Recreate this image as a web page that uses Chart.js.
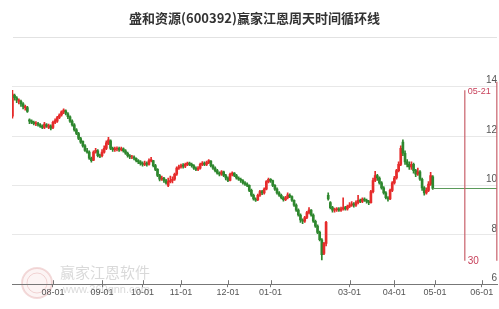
<!DOCTYPE html>
<html>
<head>
<meta charset="utf-8">
<script src="https://cdn.jsdelivr.net/npm/chart.js@4.4.0/dist/chart.umd.min.js"></script>
<style>
  html, body { margin: 0; padding: 0; background: #fff; }
  #wrap { width: 499px; height: 309px; }
</style>
</head>
<body>
<div id="wrap"><canvas id="kChart" width="499" height="309"></canvas></div>
<script>
// daily candles, one per trading day (index 0 = first day shown)
const opens = [
  12.8, 13.65, 13.55, 13.4, 13.4, 13.3, 13.15, 13.15, 12.65, 12.6,
  12.55, 12.5, 12.5, 12.45, 12.4, 12.35, 12.45, 12.35, 12.4, 12.35,
  12.55, 12.6, 12.75, 12.85, 12.98, 13.02, 12.9, 12.78, 12.6, 12.45,
  12.25, 12.1, 11.9, 11.78, 11.6, 11.4, 11.35, 11.1, 11.02, 11.35,
  11.4, 11.2, 11.2, 11.35, 11.5, 11.7, 11.8, 11.5, 11.45, 11.48,
  11.5, 11.45, 11.48, 11.4, 11.3, 11.2, 11.15, 11.15, 11.1, 11.0,
  10.95, 10.88, 10.85, 10.9, 10.85, 11.0, 11.0, 10.8, 10.65, 10.4,
  10.25, 10.3, 10.2, 10.0, 10.15, 10.2, 10.25, 10.45, 10.7, 10.75,
  10.82, 10.78, 10.85, 10.9, 10.85, 10.8, 10.7, 10.65, 10.7, 10.85,
  10.9, 10.85, 10.92, 10.98, 10.8, 10.7, 10.6, 10.5, 10.45, 10.55,
  10.4, 10.3, 10.2, 10.45, 10.5, 10.4, 10.3, 10.25, 10.2, 10.1,
  10.05, 10.0, 9.8, 9.6, 9.45, 9.42, 9.6, 9.75, 9.7, 9.85,
  10.15, 10.25, 10.2, 10.0, 9.85, 9.7, 9.6, 9.5, 9.42, 9.5,
  9.6, 9.55, 9.4, 9.2, 9.0, 8.8, 8.6, 8.55, 8.7, 8.9,
  9.0, 8.8, 8.55, 8.35, 8.1, 7.8, 7.25, 7.65, 9.6, 9.3,
  9.1, 9.0, 9.02, 9.05, 9.0, 9.05, 9.1, 9.05, 9.15, 9.2,
  9.25, 9.2, 9.3, 9.4, 9.35, 9.45, 9.4, 9.35, 9.3, 9.75,
  10.2, 10.4, 10.3, 10.1, 9.9, 9.7, 9.5, 9.45, 9.8, 10.1,
  10.3, 10.6, 10.85, 11.75, 11.3, 10.95, 10.85, 10.75, 10.85, 10.6,
  10.45, 10.55, 10.25, 9.9, 9.7, 9.8, 10.05, 10.35
];
const closes = [
  13.7, 13.55, 13.45, 13.45, 13.3, 13.2, 13.2, 13.0, 12.6, 12.55,
  12.5, 12.52, 12.45, 12.4, 12.35, 12.48, 12.4, 12.42, 12.32, 12.55,
  12.62, 12.75, 12.85, 12.98, 13.05, 12.92, 12.78, 12.6, 12.45, 12.25,
  12.1, 11.9, 11.75, 11.6, 11.42, 11.35, 11.1, 11.0, 11.35, 11.42,
  11.2, 11.18, 11.35, 11.5, 11.72, 11.85, 11.5, 11.45, 11.48, 11.5,
  11.44, 11.48, 11.4, 11.3, 11.2, 11.15, 11.16, 11.1, 11.0, 10.95,
  10.88, 10.85, 10.9, 10.85, 11.0, 11.05, 10.8, 10.65, 10.4, 10.25,
  10.3, 10.2, 10.1, 10.15, 10.2, 10.25, 10.45, 10.7, 10.75, 10.8,
  10.78, 10.85, 10.9, 10.85, 10.8, 10.7, 10.65, 10.7, 10.85, 10.9,
  10.85, 10.92, 11.0, 10.8, 10.7, 10.6, 10.5, 10.45, 10.55, 10.4,
  10.3, 10.2, 10.45, 10.5, 10.4, 10.3, 10.25, 10.2, 10.1, 10.05,
  10.0, 9.8, 9.6, 9.45, 9.4, 9.6, 9.75, 9.7, 9.85, 10.15,
  10.25, 10.2, 10.0, 9.85, 9.7, 9.6, 9.5, 9.42, 9.5, 9.62,
  9.55, 9.4, 9.2, 9.0, 8.8, 8.6, 8.55, 8.7, 8.9, 9.0,
  8.8, 8.55, 8.35, 8.1, 7.8, 7.2, 7.65, 8.5, 9.45, 9.1,
  9.0, 9.02, 9.05, 9.0, 9.05, 9.1, 9.05, 9.15, 9.2, 9.25,
  9.2, 9.3, 9.4, 9.35, 9.45, 9.4, 9.35, 9.3, 9.75, 10.2,
  10.4, 10.3, 10.1, 9.9, 9.7, 9.5, 9.45, 9.8, 10.1, 10.3,
  10.6, 10.85, 11.5, 11.3, 10.95, 10.85, 10.75, 10.85, 10.6, 10.45,
  10.55, 10.25, 9.9, 9.7, 9.8, 10.05, 10.4, 9.88
];
const highs = [
  13.85, 13.7, 13.6, 13.5, 13.45, 13.35, 13.25, 13.2, 12.7, 12.65,
  12.6, 12.58, 12.55, 12.5, 12.45, 12.55, 12.5, 12.48, 12.45, 12.6,
  12.7, 12.8, 12.9, 13.02, 13.1, 13.06, 12.95, 12.82, 12.65, 12.5,
  12.3, 12.15, 11.95, 11.8, 11.65, 11.5, 11.4, 11.15, 11.4, 11.5,
  11.45, 11.27, 11.45, 11.6, 11.8, 11.95, 11.85, 11.55, 11.55, 11.56,
  11.55, 11.55, 11.52, 11.45, 11.35, 11.25, 11.22, 11.2, 11.12, 11.05,
  11.0, 10.95, 10.98, 10.95, 11.08, 11.14, 11.02, 10.85, 10.68, 10.45,
  10.38, 10.33, 10.25, 10.3, 10.38, 10.35, 10.5, 10.75, 10.82, 10.86,
  10.88, 10.9, 10.94, 10.94, 10.9, 10.84, 10.75, 10.76, 10.9, 10.96,
  10.95, 10.98, 11.05, 11.0, 10.84, 10.75, 10.65, 10.55, 10.6, 10.58,
  10.45, 10.35, 10.5, 10.55, 10.52, 10.45, 10.35, 10.3, 10.24, 10.15,
  10.1, 10.02, 9.85, 9.65, 9.5, 9.65, 9.8, 9.8, 9.9, 10.2,
  10.3, 10.28, 10.22, 10.03, 9.9, 9.75, 9.65, 9.55, 9.56, 9.7,
  9.66, 9.58, 9.42, 9.25, 9.05, 8.85, 8.65, 8.75, 8.95, 9.1,
  9.02, 8.85, 8.6, 8.4, 8.15, 7.85, 7.7, 8.55, 9.7, 9.35,
  9.15, 9.08, 9.1, 9.1, 9.12, 9.5, 9.15, 9.2, 9.3, 9.35,
  9.3, 9.38, 9.6, 9.45, 9.5, 9.5, 9.45, 9.4, 9.8, 10.3,
  10.57, 10.45, 10.35, 10.15, 9.95, 9.75, 9.55, 9.85, 10.15, 10.37,
  10.65, 10.95, 11.6, 11.84, 11.4, 11.05, 10.95, 10.95, 10.9, 10.65,
  10.7, 10.6, 10.3, 9.95, 9.9, 10.15, 10.53, 10.4
];
const lows = [
  12.72, 13.45, 13.35, 13.3, 13.2, 13.1, 13.05, 12.95, 12.5, 12.5,
  12.45, 12.42, 12.4, 12.35, 12.3, 12.3, 12.35, 12.3, 12.25, 12.3,
  12.5, 12.55, 12.7, 12.8, 12.9, 12.85, 12.7, 12.55, 12.4, 12.2,
  12.05, 11.85, 11.7, 11.55, 11.38, 11.3, 11.05, 10.94, 11.0, 11.3,
  11.15, 11.12, 11.15, 11.3, 11.45, 11.65, 11.45, 11.38, 11.38, 11.4,
  11.38, 11.4, 11.35, 11.25, 11.14, 11.08, 11.08, 11.03, 10.95, 10.88,
  10.82, 10.78, 10.8, 10.78, 10.82, 10.95, 10.75, 10.6, 10.35, 10.18,
  10.2, 10.12, 10.05, 9.95, 10.1, 10.1, 10.2, 10.4, 10.65, 10.7,
  10.7, 10.72, 10.8, 10.8, 10.74, 10.65, 10.6, 10.6, 10.66, 10.8,
  10.8, 10.8, 10.88, 10.75, 10.65, 10.55, 10.45, 10.38, 10.4, 10.35,
  10.22, 10.15, 10.18, 10.38, 10.35, 10.25, 10.2, 10.12, 10.05, 10.0,
  9.95, 9.75, 9.55, 9.4, 9.35, 9.38, 9.55, 9.62, 9.65, 9.82,
  10.1, 10.12, 9.95, 9.8, 9.65, 9.55, 9.45, 9.36, 9.38, 9.45,
  9.5, 9.35, 9.15, 8.95, 8.75, 8.5, 8.45, 8.5, 8.65, 8.85,
  8.75, 8.5, 8.3, 8.05, 7.75, 6.98, 7.2, 7.55, 9.4, 9.05,
  8.92, 8.92, 8.95, 8.95, 8.95, 9.0, 9.0, 9.0, 9.1, 9.15,
  9.12, 9.15, 9.25, 9.3, 9.3, 9.35, 9.28, 9.22, 9.28, 9.7,
  10.15, 10.2, 10.05, 9.85, 9.65, 9.45, 9.36, 9.42, 9.75, 10.05,
  10.25, 10.55, 10.8, 11.2, 10.85, 10.75, 10.65, 10.65, 10.5, 10.35,
  10.4, 10.2, 9.8, 9.6, 9.65, 9.75, 10.0, 9.84
];

// month ticks (trading-day index) and their labels
const tickIdx = [19, 42, 61, 79, 101, 121, 158, 179, 198, 220];
const tickLabels = ['08-01', '09-01', '10-01', '11-01', '12-01', '01-01', '03-01', '04-01', '05-01', '06-01'];
const axisEnd = 227;

// time cycle lines
const cycleIdx = [212, 227];
const cycleTop = [13.85, 14.2];
const cycleBottom = 6.95;
const cycleDate = '05-21';
const cycleDays = '30';

const UP = '#e62b2b';
const DOWN = '#2e872e';
const colors = opens.map((o, i) => closes[i] >= o ? UP : DOWN);

const bodies = opens.map((o, i) => ({ x: i, y: [o, closes[i]] }));
const wicks = lows.map((l, i) => ({ x: i, y: [l, highs[i]] }));

const extras = {
    id: 'extras',
    beforeDraw(chart) {
        const ctx = chart.ctx;
        ctx.save();
        // separator under title
        ctx.strokeStyle = '#e2e2e2';
        ctx.lineWidth = 1;
        ctx.beginPath();
        ctx.moveTo(13, 37.5);
        ctx.lineTo(497, 37.5);
        ctx.stroke();
        // watermark
        ctx.strokeStyle = 'rgba(200, 90, 90, 0.22)';
        ctx.fillStyle = 'rgba(220, 120, 120, 0.08)';
        ctx.lineWidth = 2;
        ctx.beginPath();
        ctx.arc(37, 283, 15, 0, Math.PI * 2);
        ctx.fill();
        ctx.stroke();
        ctx.beginPath();
        ctx.arc(37, 283, 10, 0, Math.PI * 2);
        ctx.lineWidth = 1;
        ctx.stroke();
        ctx.fillStyle = 'rgba(130, 130, 130, 0.3)';
        ctx.textBaseline = 'middle';
        ctx.font = '15px "Noto Sans CJK SC"';
        ctx.fillText('赢家江恩软件', 60, 272);
        ctx.font = '11px "Liberation Sans"';
        ctx.fillText('www.360qnn.com', 63, 290);
        ctx.restore();
    },
    afterDatasetsDraw(chart) {
        const ctx = chart.ctx;
        const x = chart.scales.x, y = chart.scales.y;
        const area = chart.chartArea;
        ctx.save();
        // tick marks poke up through the axis line
        ctx.strokeStyle = '#777';
        ctx.lineWidth = 1;
        tickIdx.forEach(t => {
            const px = Math.round(x.getPixelForValue(t)) + 0.5;
            ctx.beginPath();
            ctx.moveTo(px, area.bottom - 4);
            ctx.lineTo(px, area.bottom);
            ctx.stroke();
        });
        // last close line
        const last = closes.length - 1;
        const yl = Math.round(y.getPixelForValue(closes[last])) + 0.5;
        ctx.strokeStyle = '#5a9a5a';
        ctx.beginPath();
        ctx.moveTo(x.getPixelForValue(last), yl);
        ctx.lineTo(area.right, yl);
        ctx.stroke();
        // cycle lines
        ctx.strokeStyle = 'rgba(200, 95, 105, 0.8)';
        ctx.lineWidth = 1.5;
        cycleIdx.forEach((c, k) => {
            const px = x.getPixelForValue(c);
            ctx.beginPath();
            ctx.moveTo(px, y.getPixelForValue(cycleTop[k]));
            ctx.lineTo(px, y.getPixelForValue(cycleBottom));
            ctx.stroke();
        });
        const p0 = x.getPixelForValue(cycleIdx[0]);
        ctx.fillStyle = '#c8405a';
        ctx.font = '9px "Liberation Sans"';
        ctx.textBaseline = 'middle';
        ctx.fillText(cycleDate, p0 + 3, y.getPixelForValue(cycleTop[0]) + 1);
        ctx.font = '10px "Liberation Sans"';
        ctx.fillText(cycleDays, p0 + 3, y.getPixelForValue(cycleBottom) + 1);
        ctx.restore();
    }
};

new Chart(document.getElementById('kChart'), {
    type: 'bar',
    data: {
        datasets: [{
            data: bodies,
            backgroundColor: colors,
            barThickness: 2,
            grouped: false,
            order: 1
        }, {
            data: wicks,
            backgroundColor: colors,
            barThickness: 1,
            grouped: false,
            order: 2
        }]
    },
    options: {
        responsive: false,
        animation: false,
        layout: { padding: { left: 12, right: 2, top: 0, bottom: 11 } },
        plugins: {
            legend: { display: false },
            tooltip: { enabled: false },
            title: {
                display: true,
                text: '盛和资源(600392)赢家江恩周天时间循环线',
                color: '#333',
                font: { family: '"Noto Sans CJK SC", sans-serif', size: 13, weight: 'bold' },
                padding: { top: 10, bottom: 61 }
            }
        },
        scales: {
            x: {
                type: 'linear',
                offset: false,
                min: -0.2,
                max: axisEnd + 0.1,
                afterBuildTicks: function(scale) {
                    scale.ticks = tickIdx.map(v => ({ value: v }));
                },
                ticks: {
                    autoSkip: false,
                    maxRotation: 0,
                    padding: 0,
                    color: '#555',
                    font: { family: '"Liberation Sans", Arial', size: 9 },
                    callback: function(v) {
                        const k = tickIdx.indexOf(v);
                        return k >= 0 ? tickLabels[k] : '';
                    }
                },
                grid: { offset: false, drawOnChartArea: false, tickLength: 3, color: '#777' },
                border: { color: '#777' }
            },
            y: {
                position: 'right',
                min: 6,
                max: 14,
                ticks: {
                    stepSize: 2,
                    mirror: true,
                    padding: 0,
                    labelOffset: -6,
                    color: '#555',
                    font: { family: '"Liberation Sans", Arial', size: 10 }
                },
                grid: { color: '#e8e8e8', drawTicks: false },
                border: { display: false }
            }
        }
    },
    plugins: [extras]
});
</script>
</body>
</html>
